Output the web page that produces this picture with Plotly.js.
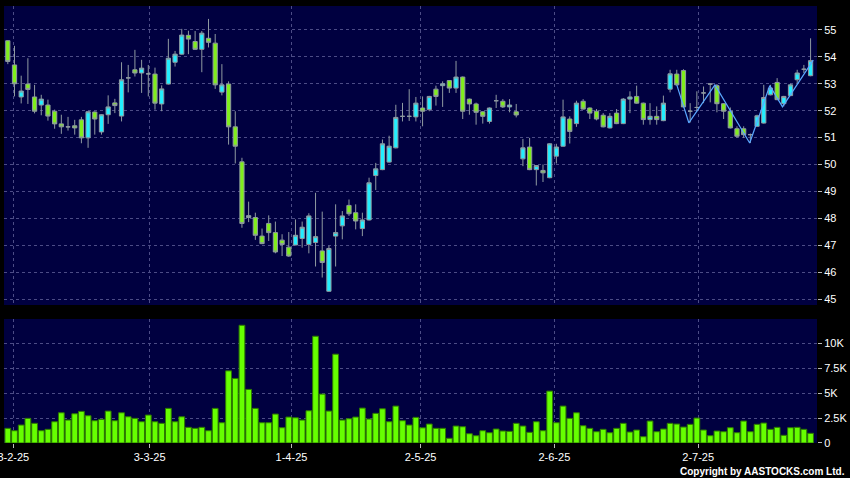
<!DOCTYPE html>
<html><head><meta charset="utf-8">
<script src="https://cdn.plot.ly/plotly-3.0.1.min.js"></script>
<style>html,body{margin:0;padding:0;background:#000;}#chart{width:850px;height:478px;}</style>
</head><body><div id="chart"></div>
<script>
// Daily OHLC (index 0..120)
const openP  = [54.60,53.70,52.51,52.99,52.51,52.21,52.21,51.98,51.51,51.40,51.44,51.66,50.99,51.95,51.21,51.85,52.29,51.80,53.22,53.52,
53.40,53.37,53.36,52.25,52.99,53.80,54.10,54.80,54.57,54.28,54.69,54.51,52.69,52.99,51.40,50.10,48.03,48.03,47.34,47.81,
47.47,47.19,46.93,47.01,47.25,47.03,47.10,46.79,45.29,47.34,47.72,48.48,48.21,47.62,47.94,49.59,49.81,50.09,50.62,51.79,
51.79,51.77,52.10,52.04,52.80,52.93,53.12,52.84,53.25,52.43,52.25,51.96,51.60,52.37,52.35,52.14,51.96,50.21,50.65,49.81,
49.78,49.51,50.31,50.68,51.69,51.52,52.35,52.10,51.98,51.83,51.36,51.91,51.52,52.43,52.53,52.28,51.67,51.79,51.63,52.80,
53.36,53.49,51.98,52.12,52.66,52.99,52.93,52.26,51.98,51.33,51.33,51.11,51.42,51.54,52.59,53.05,52.26,52.56,53.15,53.54,53.30];
const highP  = [54.62,54.41,53.30,53.95,52.96,52.59,52.41,52.04,51.85,51.77,51.66,51.77,51.98,51.97,51.87,52.57,52.44,53.80,53.70,54.26,
53.89,53.70,53.60,52.94,54.67,54.22,55.04,54.97,54.96,54.96,55.41,54.85,53.73,53.09,51.98,50.25,48.62,48.21,47.62,48.11,
47.88,47.41,47.49,47.96,47.88,48.19,48.95,48.25,46.98,48.52,48.27,48.70,48.52,48.21,49.51,50.06,50.93,51.07,52.22,52.29,
52.80,52.51,52.53,52.55,52.93,53.09,53.14,53.85,53.27,52.45,52.30,51.98,52.12,52.59,52.43,52.43,52.25,50.95,50.99,49.98,
50.00,50.79,50.77,52.41,51.79,52.37,52.43,52.12,52.06,51.91,51.91,52.06,52.47,52.72,52.93,52.30,52.28,52.16,52.56,53.52,
53.52,53.54,52.28,52.72,52.90,53.01,52.99,52.28,52.12,51.42,51.42,51.15,51.85,52.96,52.96,53.21,52.55,53.00,53.52,53.70,54.69];
const lowP   = [53.73,52.53,52.27,52.25,51.90,51.83,51.63,51.33,51.14,51.26,51.11,50.79,50.62,51.11,51.11,51.51,51.91,51.60,52.68,53.27,
52.66,52.53,52.04,51.98,52.97,53.64,54.08,54.10,54.26,53.43,54.35,52.81,52.57,50.74,50.04,47.65,47.86,47.20,47.04,47.16,
46.70,46.60,46.57,47.00,46.91,46.70,46.21,45.80,45.27,46.21,47.22,48.09,47.59,47.34,47.92,49.05,49.79,50.07,50.60,51.60,
51.62,51.60,51.42,51.98,52.19,52.14,52.66,52.66,51.69,51.85,51.48,51.52,51.52,52.10,52.10,51.94,51.75,49.94,49.79,49.22,
49.35,49.49,50.04,50.66,50.78,51.40,52.04,51.69,51.64,51.38,51.34,51.50,51.50,51.91,52.26,51.48,51.48,51.48,51.61,52.68,
52.94,52.12,51.56,51.98,52.28,52.31,51.94,51.69,51.34,50.99,50.99,50.80,51.40,51.52,52.57,52.39,52.16,52.54,53.03,53.40,53.28];
const closeP = [53.83,53.00,52.73,52.79,51.98,52.43,51.80,51.51,51.40,51.40,51.36,50.99,51.96,51.69,51.85,52.14,52.19,53.15,53.22,53.40,
53.58,53.37,52.28,52.81,53.95,54.10,54.81,54.66,54.28,54.88,54.54,52.96,52.96,51.40,50.68,47.81,48.10,47.37,47.06,47.47,
46.75,47.03,46.60,47.37,47.67,48.09,47.32,46.36,46.88,47.47,48.09,48.17,47.90,47.94,49.32,49.84,50.77,50.68,51.75,51.79,
51.79,52.28,51.98,52.53,52.53,53.00,52.84,53.25,51.98,52.25,51.94,51.79,52.10,52.37,52.14,52.21,51.84,50.62,49.81,49.96,
49.69,50.77,50.65,51.77,51.23,52.28,52.06,51.91,51.69,51.40,51.79,51.52,52.43,52.51,52.28,51.67,51.79,51.67,52.28,53.37,
52.96,52.14,51.98,52.12,52.66,52.99,52.26,51.98,51.36,51.05,51.11,51.11,51.81,52.49,52.84,52.41,52.53,52.96,53.40,53.54,53.86];
// Daily volume
const volume = [1470,1230,1800,2470,1970,1230,1370,2130,3030,2300,2930,3170,2730,2230,2370,3200,2230,3030,2630,2470,
2130,2800,2130,1970,3470,2130,2630,1570,1470,1570,1230,3470,2030,7230,6470,11800,5370,3470,2030,2030,
2900,1530,2600,2530,2300,3230,10700,4900,3200,8900,2300,2430,2600,3500,2400,2970,3430,2130,3700,2230,
1800,2570,1520,1900,1470,1470,470,1700,1630,930,730,1230,1030,1400,1200,1170,1970,1700,1070,2130,
1230,5200,2030,3700,2470,3030,1730,1470,1130,1370,1030,1470,1970,1100,1300,630,2200,1130,1400,1970,
1900,1600,1870,2500,1300,730,1200,1130,1530,1030,2200,1130,1870,2000,1370,1570,770,1530,1570,1370,970];
// Overlay line (zigzag) points
const lineIdx = [100,101.8,105.7,110.9,113.9,115.8,120.4];
const lineVal = [52.96,51.55,52.96,50.80,52.93,52.14,53.88];
// Date tick labels
const tickPos = [0.82,21.2,42.4,61.7,81.7,103.2];
const tickLabels = ['3-2-25','3-3-25','1-4-25','2-5-25','2-6-25','2-7-25'];
const priceTicks = [45,46,47,48,49,50,51,52,53,54,55];
const volTicks = [0,2500,5000,7500,10000];
const volTickLabels = ['0','2.5K','5K','7.5K','10K'];

const idx = openP.map((_, i) => i);
const gridCol = '#4c4c86';
const fnt = {family: 'Arial, "Liberation Sans", sans-serif', size: 11, color: '#ffffff'};

const traces = [
  {type: 'candlestick', x: idx, open: openP, high: highP, low: lowP, close: closeP,
   xaxis: 'x', yaxis: 'y',
   increasing: {line: {color: '#8f9aa0', width: 1}, fillcolor: '#22eeff'},
   decreasing: {line: {color: '#8f9aa0', width: 1}, fillcolor: '#80ee1c'},
   whiskerwidth: 0, hoverinfo: 'skip', showlegend: false},
  {type: 'scatter', mode: 'lines', x: lineIdx, y: lineVal, xaxis: 'x', yaxis: 'y',
   line: {color: '#5aa8ff', width: 1.2}, hoverinfo: 'skip', showlegend: false},
  {type: 'bar', x: idx, y: volume, xaxis: 'x', yaxis: 'y2',
   marker: {color: '#66ff00', line: {color: '#2e7a00', width: 1}}, hoverinfo: 'skip', showlegend: false}
];

const layout = {
  width: 850, height: 478,
  paper_bgcolor: '#000000', plot_bgcolor: '#000040',
  margin: {l: 4, r: 33, t: 6, b: 35},
  showlegend: false, boxgap: 0.1, bargap: 0.14,
  font: fnt,
  xaxis: {anchor: 'y2', range: [-0.57, 120.96], rangeslider: {visible: false},
    tickmode: 'array', tickvals: tickPos, ticktext: tickLabels, ticklabeloverflow: 'allow',
    showgrid: true, gridcolor: gridCol, griddash: '3px,3px', gridwidth: 1,
    ticks: 'outside', ticklen: 4, tickcolor: '#bbbbbb', showline: false, zeroline: false,
    tickfont: fnt, fixedrange: true},
  yaxis: {domain: [0.3158, 1], range: [44.78, 55.89], side: 'right',
    tickmode: 'array', tickvals: priceTicks,
    showgrid: true, gridcolor: gridCol, griddash: '3px,3px', gridwidth: 1,
    ticks: 'outside', ticklen: 4, tickcolor: '#bbbbbb', zeroline: false, showline: false,
    tickfont: fnt},
  yaxis2: {domain: [0, 0.2838], range: [0, 12430], side: 'right',
    tickmode: 'array', tickvals: volTicks, ticktext: volTickLabels,
    showgrid: true, gridcolor: gridCol, griddash: '3px,3px', gridwidth: 1,
    ticks: 'outside', ticklen: 4, tickcolor: '#bbbbbb', zeroline: false, showline: false,
    tickfont: fnt},
  annotations: [{text: 'Copyright by AASTOCKS.com Ltd.', xref: 'paper', yref: 'paper',
    x: 1.0365, y: -0.0645, xanchor: 'right', yanchor: 'middle', showarrow: false,
    font: {family: 'Arial, "Liberation Sans", sans-serif', size: 10, color: '#ffffff', weight: 'bold'}}]
};

Plotly.newPlot('chart', traces, layout, {displayModeBar: false, staticPlot: true});
</script></body></html>
